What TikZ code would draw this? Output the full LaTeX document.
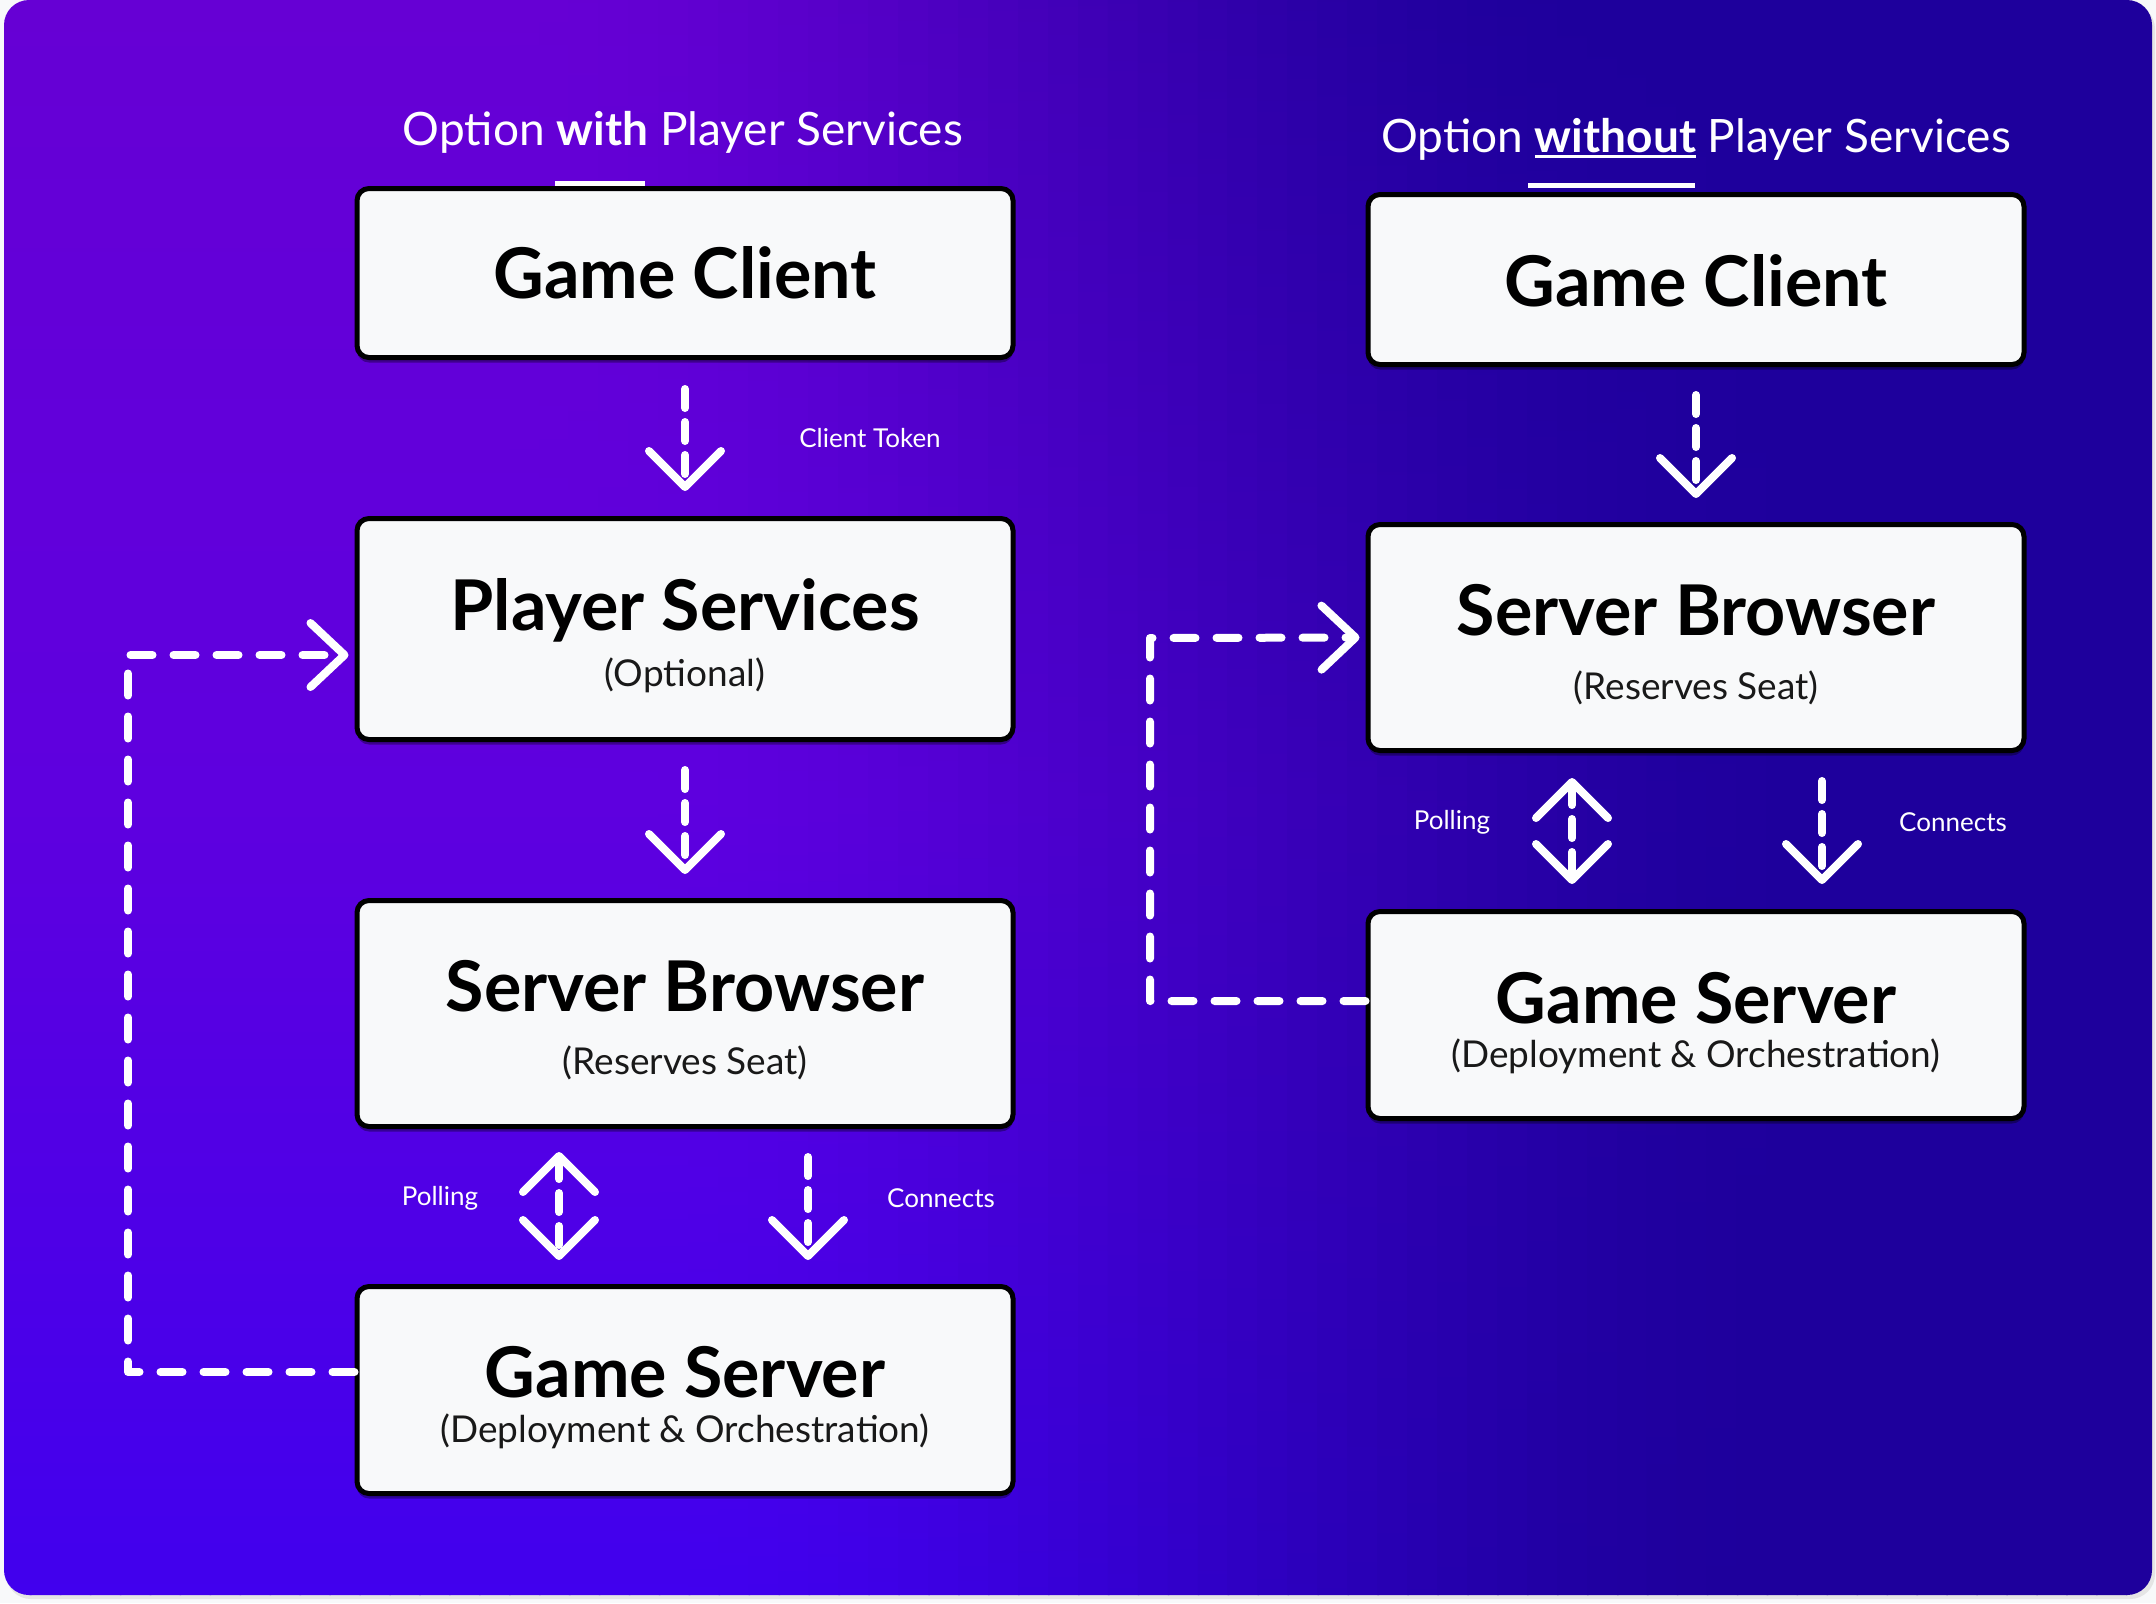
\documentclass[tikz,border=0pt]{standalone}
\usepackage{fontspec}
\setmainfont{Lato}
\usetikzlibrary{arrows.meta,shadows}
\definecolor{cTL}{HTML}{6600D4}
\definecolor{cML}{HTML}{5E00DF}
\definecolor{cBL}{HTML}{4000EE}
\definecolor{cR}{HTML}{1E009C}
\definecolor{boxfill}{HTML}{F8F9FA}
\definecolor{pagebg}{HTML}{F8F9FA}
\newcommand\myul[1]{\setbox0\hbox{#1}\rlap{\rule[-3pt]{\wd0}{1.3pt}}\box0\relax}
\tikzset{
  box/.style={draw=black, line width=2.5pt, fill=boxfill, rounded corners=6pt,
    inner sep=0pt, minimum width=328pt,
    drop shadow={shadow xshift=0pt, shadow yshift=-2.5pt, opacity=0.35, fill=black}},
  ttl/.style={font=\fontsize{35}{42}\bfseries\selectfont, text=black, inner sep=0pt, anchor=base},
  sub/.style={font=\fontsize{18.5}{22}\selectfont, text=black!90, inner sep=0pt, anchor=base},
  hdr/.style={font=\fontsize{23}{28}\selectfont, text=white, inner sep=0pt, anchor=base},
  lbl/.style={font=\fontsize{13}{16}\selectfont, text=white, inner sep=0pt},
  flow/.style={white, line width=4pt, line cap=round, line join=round,
    dash pattern=on 9.5pt off 7pt, -{Straight Barb[length=18pt,width=36pt,round]}},
  flow2/.style={white, line width=4pt, line cap=round, line join=round,
    dash pattern=on 9.5pt off 7pt, {Straight Barb[length=18pt,width=36pt,round]}-{Straight Barb[length=18pt,width=36pt,round]}},
  loopline/.style={white, line width=4pt, line cap=round, line join=round,
    dash pattern=on 11pt off 10.5pt, -{Straight Barb[length=17pt,width=32pt,round]}},
}
\begin{document}
\begin{tikzpicture}[x=0.5pt,y=-0.5pt]
\useasboundingbox (0,0) rectangle (2156,1603);
\fill[pagebg] (0,0) rectangle (2156,1603);
\fill[black!10, rounded corners=12.5pt] (6,4) rectangle (2155,1599);
\begin{scope}
\clip[rounded corners=12.5pt] (4,0) rectangle (2152,1595);
\foreach \i in {0,...,71}{
  \pgfmathsetmacro\xa{\i*29.9444}
  \pgfmathsetmacro\xb{\xa+31.5}
  \pgfmathsetmacro\tt{(\i+0.5)/72}
  \pgfmathsetmacro\ua{max(0,min(1,(0.74-\tt)/0.5))}
  \pgfmathsetmacro\ub{max(0,min(1,(0.85-\tt)/0.55))}
  \pgfmathsetmacro\uc{max(0,min(1,(0.82-\tt)/0.5))}
  \pgfmathsetmacro\fTop{100*\ua*\ua*(3-2*\ua)}
  \pgfmathsetmacro\fMid{100*\ub*\ub*(3-2*\ub)}
  \pgfmathsetmacro\fBot{100*\uc*\uc*(3-2*\uc)}
  \colorlet{sTop}{cTL!\fTop!cR}
  \colorlet{sMid}{cML!\fMid!cR}
  \colorlet{sBot}{cBL!\fBot!cR}
  \shade[top color=sTop, bottom color=sBot, middle color=sMid] (\xa,-5) rectangle (\xb,1610);
}
\end{scope}

% headers
\node[hdr] (h1) at (683,145) {Option \textbf{with} Player Services};
\node[hdr] (h2) at (1696,152) {Option \myul{\textbf{without}} Player Services};
\fill[white] (555,181) rectangle (645,186);
\fill[white] (1528,183) rectangle (1695,188);

% left boxes
\node[box, minimum height=84.5pt] (gc1) at (685,273) {};
\node[box, minimum height=110.5pt] (ps) at (685,629) {};
\node[box, minimum height=113pt] (sb1) at (685,1013.5) {};
\node[box, minimum height=103.5pt] (gs1) at (685,1390) {};
% right boxes
\node[box, minimum height=85pt] (gc2) at (1696,279.5) {};
\node[box, minimum height=113pt] (sb2) at (1696,637.5) {};
\node[box, minimum height=103.5pt] (gs2) at (1696,1015) {};

% texts left
\node[ttl] (t1) at (685,298) {Game Client};
\node[ttl] (t2) at (685,630) {Player Services};
\node[sub] (s2) at (685,686) {(Optional)};
\node[ttl] (t3) at (685,1011) {Server Browser};
\node[sub] (s3) at (685,1074) {(Reserves Seat)};
\node[ttl] (t4) at (685,1397) {Game Server};
\node[sub] (s4) at (685,1442) {(Deployment \& Orchestration)};
% texts right
\node[ttl] (t5) at (1696,306) {Game Client};
\node[ttl] (t6) at (1696,635) {Server Browser};
\node[sub] (s6) at (1696,699) {(Reserves Seat)};
\node[ttl] (t7) at (1696,1023) {Game Server};
\node[sub] (s7) at (1696,1067) {(Deployment \& Orchestration)};

% left arrows
\draw[flow, shorten <=14.5pt, shorten >=12.5pt] (gc1.south) -- (ps.north);
\node[lbl] (l1) at (870,438) {Client Token};
\draw[flow, shorten <=14pt, shorten >=12pt] (ps.south) -- (sb1.north);
\draw[flow2, shorten <=11.5pt, shorten >=12pt] ([xshift=-63pt]sb1.south) -- ([xshift=-63pt]gs1.north);
\node[lbl] (l2) at (440,1198) {Polling};
\draw[flow, shorten <=14pt, shorten >=12pt] ([xshift=61.5pt]sb1.south) -- ([xshift=61.5pt]gs1.north);
\node[lbl] (l3) at (941,1198) {Connects};
% right arrows
\draw[flow, shorten <=14pt, shorten >=12pt] (gc2.south) -- (sb2.north);
\draw[flow2, shorten <=12.5pt, shorten >=12.5pt] ([xshift=-62pt]sb2.south) -- ([xshift=-62pt]gs2.north);
\node[lbl] (l4) at (1452,822) {Polling};
\draw[flow, shorten <=14pt, shorten >=12.5pt] ([xshift=63pt]sb2.south) -- ([xshift=63pt]gs2.north);
\node[lbl] (l5) at (1953,822) {Connects};

% loops
\coordinate (lc1) at (128,1372);
\coordinate (lc2) at (128,655);
\draw[loopline, shorten >=3pt] ([yshift=9pt]gs1.west) -- (lc1) -- (lc2) -- ([yshift=-13pt]ps.west);
\coordinate (lc3) at (1150,1001);
\coordinate (lc4) at (1150,638);
\draw[loopline, shorten >=3pt] ([yshift=7pt]gs2.west) -- (lc3) -- (lc4) -- (sb2.west);
\end{tikzpicture}
\end{document}
